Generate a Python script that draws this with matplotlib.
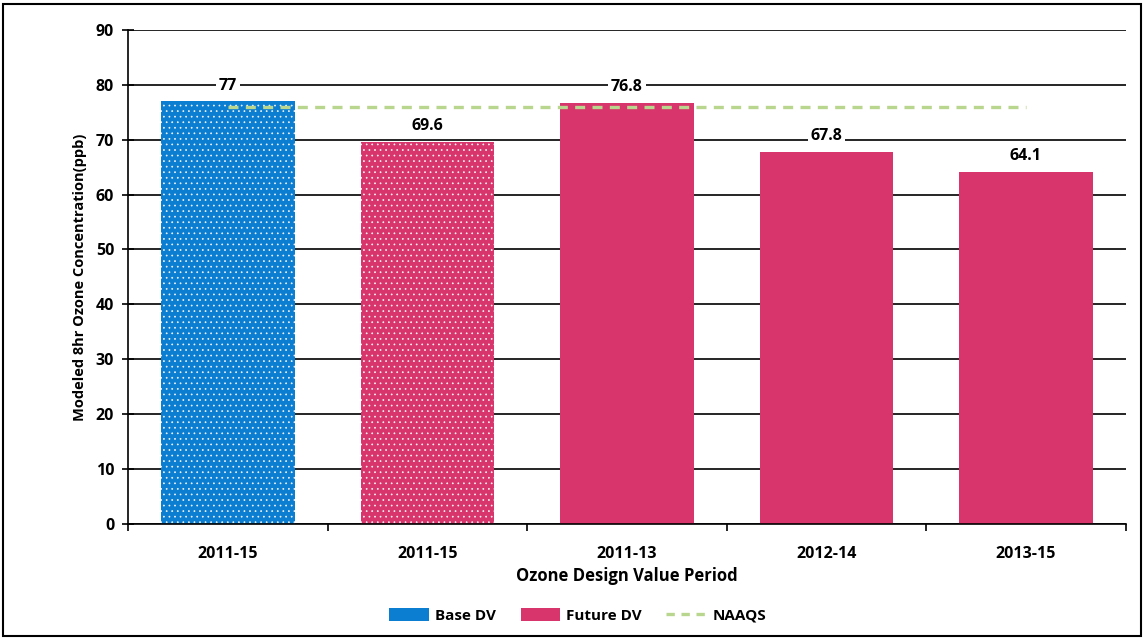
import matplotlib
matplotlib.use("Agg")
import matplotlib.pyplot as plt
from matplotlib.patches import Patch, Rectangle
from matplotlib.lines import Line2D

# data
periods = ["2011-15", "2011-15", "2011-13", "2012-14", "2013-15"]
values = [77, 69.6, 76.8, 67.8, 64.1]
kinds = ["base", "future", "future", "future", "future"]
dotted = [True, True, False, False, False]
naaqs = 76

blue = "#0B7ED2"
pink = "#D7356B"
green = "#B9D68E"

plt.rcParams["font.family"] = ["Open Sans", "DejaVu Sans"]
plt.rcParams["font.weight"] = "bold"
plt.rcParams["hatch.linewidth"] = 0.5

fig = plt.figure(figsize=(11.44, 6.41), dpi=100)
ax = fig.add_axes([0.112, 0.183, 0.872, 0.770])

x = list(range(len(periods)))
for i, (v, k, d) in enumerate(zip(values, kinds, dotted)):
    col = blue if k == "base" else pink
    ax.bar(i, v, width=0.67, color=col, edgecolor="#f4f4f4" if d else col,
           linewidth=0, hatch="..." if d else None, zorder=2)
    ax.text(i, v + 2.9, f"{v:g}", ha="center", va="center", fontsize=11.5,
            fontweight="bold", zorder=4,
            bbox=dict(facecolor="white", edgecolor="none", pad=2))

ax.plot([0, len(periods) - 1], [naaqs, naaqs], color=green, lw=2.4,
        ls=(0, (3, 2.2)), zorder=3)

ax.set_xlim(-0.5, len(periods) - 0.5)
ax.set_ylim(0, 90)
ax.set_yticks(range(0, 91, 10))
ax.set_xticks(x)
ax.set_xticklabels(periods, fontsize=11.5, fontweight="bold")
ax.set_xticks([i + 0.5 for i in range(-1, len(periods))], minor=True)
ax.tick_params(axis="x", which="major", length=0, pad=16)
ax.tick_params(axis="x", which="minor", length=5, direction="out", width=1.2)
ax.tick_params(axis="y", length=8, direction="inout", width=1.2, labelsize=11.5, pad=6)
for lab in ax.get_yticklabels():
    lab.set_fontweight("bold")

ax.grid(axis="y", color="black", lw=1.2, zorder=0)
ax.set_axisbelow(True)
for s in ["top", "right"]:
    ax.spines[s].set_visible(False)
ax.spines["left"].set_linewidth(1.2)
ax.spines["bottom"].set_linewidth(1.2)

ax.set_ylabel("Modeled 8hr Ozone Concentration(ppb)", fontsize=10.5, fontweight="bold", labelpad=6)
ax.set_xlabel("Ozone Design Value Period", fontsize=12, fontweight="bold", labelpad=4)

handles = [Patch(facecolor=blue, label="Base DV"),
           Patch(facecolor=pink, label="Future DV"),
           Line2D([0], [0], color=green, lw=2.4, ls=(0, (2.5, 2)), label="NAAQS")]
fig.legend(handles=handles, loc="center", bbox_to_anchor=(0.505, 0.04), ncol=3,
           frameon=False, fontsize=11, handlelength=2.6, handleheight=0.9,
           columnspacing=1.6, handletextpad=0.4)

fig.patches.append(Rectangle((0.003, 0.008), 0.994, 0.986, transform=fig.transFigure,
                             fill=False, edgecolor="black", lw=1.5))

fig.savefig("out.png", dpi=100)
